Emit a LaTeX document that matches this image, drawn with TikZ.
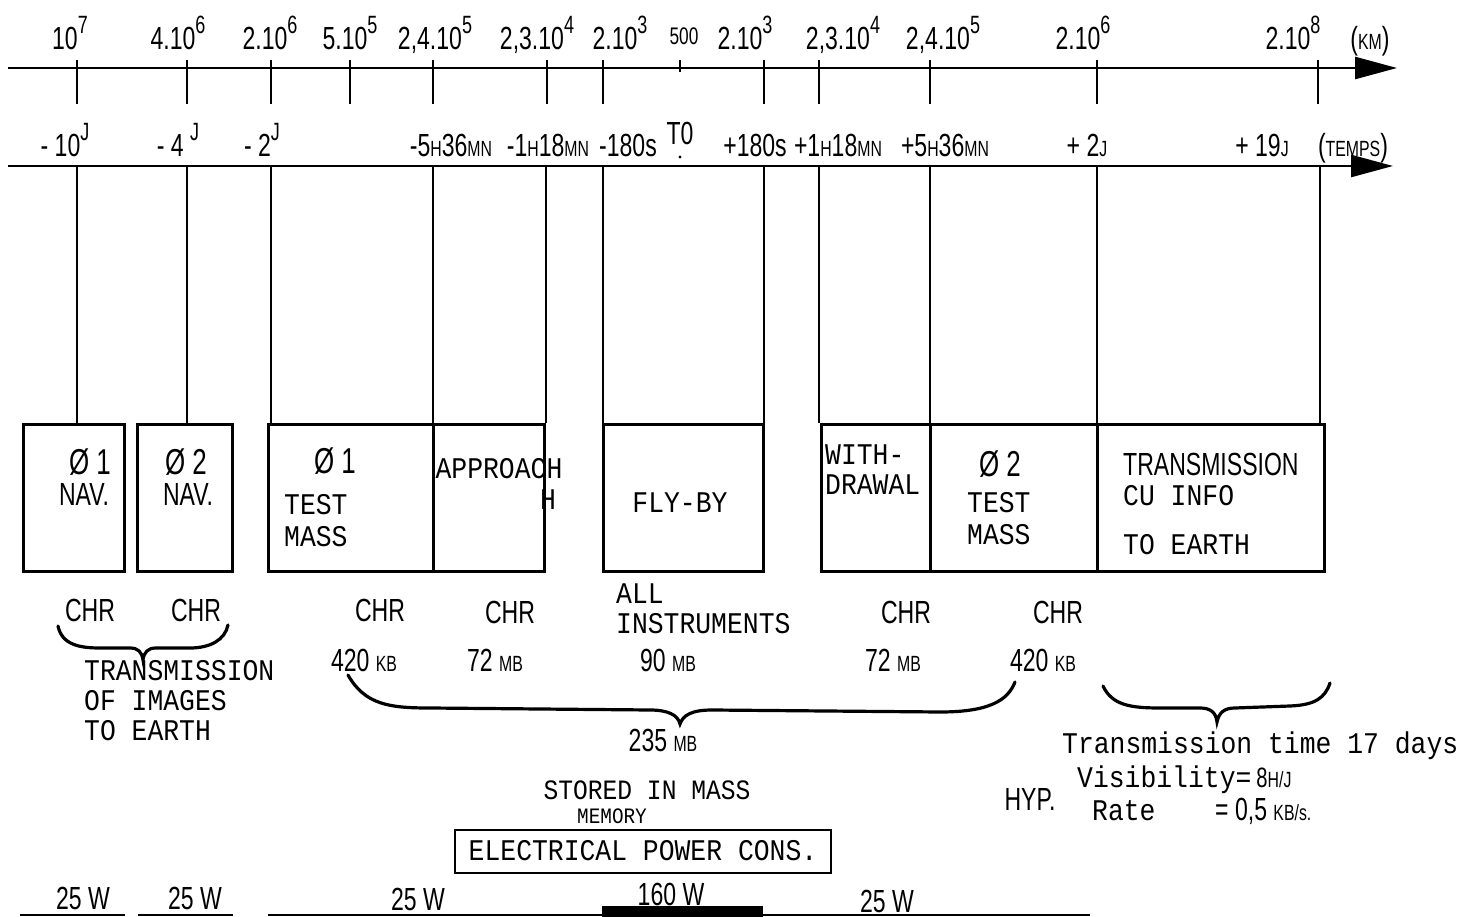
\documentclass[tikz,border=0pt]{standalone}
\usepackage{fontspec}
\newfontfamily\nfont[FakeStretch=0.72]{Liberation Sans}
\newfontfamily\tfont[FakeStretch=0.88]{Liberation Mono}
\usetikzlibrary{arrows.meta}
\newcommand{\pw}[1]{\raisebox{0.5em}{\fontsize{25}{25}\selectfont #1}}
\newcommand{\sm}[1]{{\fontsize{22}{22}\selectfont #1}}

\begin{document}
\begin{tikzpicture}[x=1pt,y=-1pt,
    lbl/.style={font=\nfont\fontsize{32}{34}\selectfont, inner sep=0pt, anchor=base},
    typ/.style={font=\tfont\fontsize{30}{32}\selectfont, inner sep=0pt, align=left},
    axis/.style={line width=2.6pt, -{Triangle[length=42pt,width=22pt]}},
    tick/.style={line width=1.8pt},
    phase/.style={draw, line width=2.6pt, minimum height=147pt, inner sep=0pt, anchor=north west},
    brace/.style={line width=3.2pt, line cap=round}]

\useasboundingbox (0,0) rectangle (1468,917);

% distance axis (km)
\draw[axis] (8,68) -- (1397,68);
\foreach \x in {77,187,271,350,433,547,603,764,819,930,1097,1318}
    \draw[tick] (\x,60) -- (\x,104);
\draw[tick] (680,60) -- (680,72);
\foreach \x/\txt [count=\i] in {70/{10\pw{7}}, 178/{4.10\pw{6}}, 270/{2.10\pw{6}}, 350/{5.10\pw{5}},
        435/{2,4.10\pw{5}}, 537/{2,3.10\pw{4}}, 620/{2.10\pw{3}}, 745/{2.10\pw{3}},
        843/{2,3.10\pw{4}}, 943/{2,4.10\pw{5}}, 1083/{2.10\pw{6}}, 1293/{2.10\pw{8}}}
    \node[lbl] (km\i) at (\x,50) {\txt};
\node[lbl, font=\nfont\fontsize{24}{24}\selectfont] (km0) at (684,45) {500};
\node[lbl] (kmu) at (1370,50) {(\sm{KM})};

% time axis
\draw[axis] (8,166) -- (1393,166);
\foreach \x/\txt [count=\i] in {65/{- 10\pw{J}}, 178/{- 4 \pw{J}}, 262/{- 2\pw{J}},
        451/{-5\sm{H}36\sm{MN}}, 548/{-1\sm{H}18\sm{MN}}, 628/{-180s},
        755/{+180s}, 838/{+1\sm{H}18\sm{MN}}, 945/{+5\sm{H}36\sm{MN}},
        1087/{+ 2\sm{J}}, 1262/{+ 19\sm{J}}, 1353/{(\sm{TEMPS})}}
    \node[lbl] (tm\i) at (\x,157) {\txt};
\node[lbl] (t0) at (680,145) {T0};
\fill (680,157) circle (1.6pt);

% phases
\node[phase, minimum width=101pt] (nav1) at (22,423) {};
\node[phase, minimum width=95pt] (nav2) at (136,423) {};
\node[phase, minimum width=165pt] (mass1) at (267,423) {};
\node[phase, minimum width=111pt] (appr) at (432,423) {};
\node[phase, minimum width=160pt] (fly) at (602,423) {};
\node[phase, minimum width=109pt] (wdr) at (820,423) {};
\node[phase, minimum width=167pt] (mass2) at (929,423) {};
\node[phase, minimum width=227pt] (trans) at (1096,423) {};

\foreach \x/\b in {77/nav1, 187/nav2, 271/mass1, 433/appr, 546/appr, 603/fly,
        764/fly, 819/wdr, 930/mass2, 1097/trans, 1320/trans}{
    \coordinate (c) at (\x,166);
    \draw[tick] (c) -- (c |- \b.north);
}

\node[lbl, font=\nfont\fontsize{36}{36}\selectfont] (o1) at (90,474) {Ø 1};
\node[lbl] (n1) at (84,505) {NAV.};
\node[lbl, font=\nfont\fontsize{36}{36}\selectfont] (o2) at (186,474) {Ø 2};
\node[lbl] (n2) at (188,505) {NAV.};
\node[lbl, font=\nfont\fontsize{36}{36}\selectfont] (o3) at (335,473) {Ø 1};
\node[typ, anchor=north west] (m1) at (284,494) {TEST\\MASS};
\node[typ] (ap) at (499,469) {APPROACH};
\node[typ] (aph) at (548,500) {H};
\node[typ] (fb) at (680,503) {FLY-BY};
\node[typ, anchor=north west] (wd) at (825,445) {WITH-\\[-2pt]DRAWAL};
\node[lbl, font=\nfont\fontsize{36}{36}\selectfont] (o4) at (1000,476) {Ø 2};
\node[typ, anchor=north west] (m2) at (967,492) {TEST\\MASS};
\node[lbl, anchor=west] (tr) at (1123,464) {TRANSMISSION};
\node[typ, anchor=west] (cu) at (1123,496) {CU INFO};
\node[typ, anchor=west] (te) at (1123,545) {TO EARTH};

% data volumes
\foreach \x/\y/\txt [count=\i] in {90/621/CHR, 196/621/CHR, 380/621/CHR, 510/623/CHR,
        906/623/CHR, 1058/623/CHR, 364/671/{420 \sm{KB}}, 495/671/{72 \sm{MB}},
        668/671/{90 \sm{MB}}, 893/671/{72 \sm{MB}}, 1043/671/{420 \sm{KB}}, 663/751/{235 \sm{MB}}}
    \node[lbl] (v\i) at (\x,\y) {\txt};
\node[typ, anchor=north west] (all) at (616,584) {ALL\\[-2pt]INSTRUMENTS};
\node[typ, anchor=north west] (img) at (84,660) {TRANSMISSION\\[-2pt]OF IMAGES\\[-2pt]TO EARTH};

\draw[brace] (58,626) .. controls (62,645) and (80,648) .. (100,648) -- (130,648)
    .. controls (138,648) and (142,652) .. (143,660) .. controls (144,652) and (148,648) .. (156,648)
    -- (190,648) .. controls (210,648) and (225,640) .. (228,625);
\draw[brace] (348,675) .. controls (365,705) and (390,708) .. (430,708) -- (650,710)
    .. controls (668,710) and (678,715) .. (680,724) .. controls (683,715) and (692,710) .. (712,710)
    -- (940,712) .. controls (990,712) and (1008,700) .. (1015,682);
\draw[brace] (1103,686) .. controls (1112,705) and (1130,708) .. (1160,708) -- (1200,708)
    .. controls (1210,708) and (1216,712) .. (1217,722) .. controls (1219,712) and (1225,708) .. (1235,708)
    -- (1290,706) .. controls (1315,705) and (1325,698) .. (1330,683);

\node[typ, anchor=west] (ttime) at (1062,746) {Transmission time 17 days};
\node[typ, anchor=west] (vis) at (1077,780) {Visibility=\,{\nfont\fontsize{28}{28}\selectfont 8\sm{H/J}}};
\node[lbl] (hyp) at (1030,810) {HYP.};
\node[typ, anchor=west] (rate) at (1092,811) {Rate};
\node[lbl, anchor=west] (rv) at (1215,811) {= 0,5 \sm{KB/s.}};

\node[typ, font=\tfont\fontsize{28}{28}\selectfont] (store) at (647,790) {STORED IN MASS};
\node[typ, font=\tfont\fontsize{22}{22}\selectfont] (mem) at (612,816) {MEMORY};
\node[typ, draw, line width=2pt, minimum width=376pt, minimum height=43pt] (elec) at (643,851)
    {ELECTRICAL POWER CONS.};

% power consumption
\foreach \x/\y/\txt [count=\i] in {83/909/{25 W}, 195/909/{25 W}, 418/910/{25 W},
        671/905/{160 W}, 887/912/{25 W}}
    \node[lbl] (p\i) at (\x,\y) {\txt};
\draw[line width=2pt] (20,915) -- (125,915);
\draw[line width=2pt] (138,915) -- (233,915);
\draw[line width=2pt] (268,915) -- (602,915);
\fill (602,906) rectangle (763,917);
\draw[line width=2pt] (763,915) -- (1090,915);
\end{tikzpicture}
\end{document}
